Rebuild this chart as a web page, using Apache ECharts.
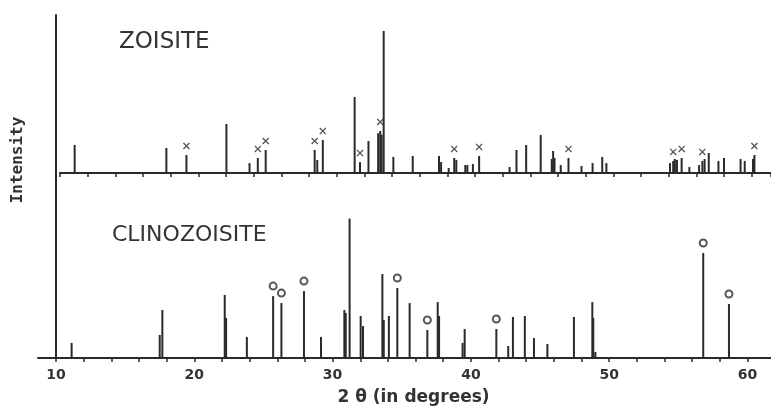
<!DOCTYPE html>
<html>
<head>
	<meta charset="utf-8">
	<title>Zoisite / Clinozoisite</title>
	<script src="https://cdn.jsdelivr.net/npm/echarts@6/dist/echarts.min.js"></script>
	<style type="text/css">
	html, body { margin: 0; padding: 0; background: #fff; }
	#chart { width: 771px; height: 414px; }
	</style>
</head>
<body>
	<div id="chart"></div>
	<script>
	// 2theta positions and relative intensities (tallest = 100)
	var zoisitePos = [11.06, 17.69, 19.14, 22.03, 23.7, 24.3, 24.87, 28.41, 28.6, 29.0, 31.3, 31.69, 32.3,
		33.0, 33.15, 33.25, 33.4, 34.1, 35.5, 37.4, 37.55, 38.1, 38.5, 38.65, 39.3, 39.45, 39.85, 40.3,
		42.5, 43.0, 43.7, 44.75, 45.55, 45.65, 45.75, 46.2, 46.76, 47.7, 48.5, 49.2, 49.5,
		54.1, 54.33, 54.45, 54.6, 54.94, 55.5, 56.2, 56.44, 56.6, 56.9, 57.6, 58.0, 59.2, 59.5, 60.1, 60.2];
	var zoisiteInt = [19.7, 17.6, 12.7, 34.5, 7.0, 10.6, 16.2, 16.2, 9.2, 23.2, 53.5, 7.7, 22.5,
		28, 29.6, 27, 100, 11.3, 12, 12, 7.7, 3.5, 10.6, 9.2, 5.6, 5.6, 6.3, 12,
		4.2, 16.2, 19.7, 26.8, 9.9, 15.5, 10.6, 5.6, 10.6, 4.9, 7.0, 11.3, 7.0,
		7.0, 8.5, 9.9, 9.2, 10.6, 4.2, 5.6, 8.5, 9.9, 14.1, 8.5, 10.6, 9.9, 8.5, 9.9, 12.7];
	var zoisiteCross = [19.14, 24.3, 24.87, 28.41, 29.0, 31.69, 33.15, 38.5, 40.3, 46.76, 54.33, 54.94, 56.44, 60.2];

	var clinoPos = [11.13, 17.5, 17.69, 22.2, 22.3, 23.8, 25.7, 26.3, 27.93, 29.16, 30.85, 30.95, 31.23,
		32.03, 32.2, 33.6, 33.7, 34.07, 34.68, 35.57, 36.85, 37.6, 37.7, 39.4, 39.55, 41.84, 42.7,
		43.04, 43.9, 44.56, 45.53, 47.45, 48.78, 48.85, 49.0, 56.8, 58.66];
	var clinoInt = [10.8, 16.5, 34.4, 45.2, 28.7, 15.1, 44.4, 39.4, 48.0, 15.1, 34.4, 32.3, 100,
		30.1, 22.9, 60.2, 27.2, 30.1, 50.2, 39.4, 20.1, 40.1, 30.1, 10.8, 20.8, 20.8, 8.6,
		29.4, 30.1, 14.3, 10.0, 29.4, 40.1, 28.7, 4.3, 75.3, 38.7];
	var clinoCircle = [25.7, 26.3, 27.93, 34.68, 36.85, 41.84, 56.8, 58.66];

	var tickLabels = [10, 20, 30, 40, 50, 60];

	var ink = '#2a2a2a';

	function pairs(pos, val) {
		return pos.map(function(p, i) { return [p, val[i]]; });
	}
	function marks(list, pos, val) {
		return list.map(function(p) { return [p, val[pos.indexOf(p)]]; });
	}

	var crossPath = 'path://M0,1.3L1.3,0L10,8.7L8.7,10Z M8.7,0L10,1.3L1.3,10L0,8.7Z';

	var chart = echarts.init(document.getElementById('chart'));
	chart.setOption({
		backgroundColor: '#fff',
		animation: false,
		title: [{
			text: 'ZOISITE',
			left: 119, top: 31, padding: 0,
			textStyle: { fontFamily: 'DejaVu Sans', fontWeight: 'normal', fontSize: 23, color: '#333' }
		}, {
			text: 'CLINOZOISITE',
			left: 112, top: 224, padding: 0,
			textStyle: { fontFamily: 'DejaVu Sans', fontWeight: 'normal', fontSize: 22, color: '#333' }
		}],
		graphic: [{
			type: 'text',
			x: 18, y: 160,
			rotation: Math.PI / 2,
			style: {
				text: 'Intensity',
				fill: '#333',
				font: 'bold 16px "DejaVu Sans Mono"',
				align: 'center',
				verticalAlign: 'middle'
			}
		}],
		grid: [
			{ left: 60, right: 0, top: 31, bottom: 241 },   // zoisite
			{ left: 56, right: 0, top: 15, bottom: 56 },    // clinozoisite (+ tall y line)
			{ left: 38, width: 18, top: 15, bottom: 56 }    // little stub of the bottom baseline
		],
		xAxis: [{
			gridIndex: 0, type: 'value', min: 10, max: 61.4, interval: 2,
			axisLine: { lineStyle: { color: ink, width: 2 } },
			axisTick: { length: 4, lineStyle: { color: ink, width: 1.5 } },
			axisLabel: { show: false },
			splitLine: { show: false }
		}, {
			gridIndex: 1, type: 'value', min: 10, max: 61.7, interval: 2,
			name: '2 θ (in degrees)',
			nameLocation: 'middle', nameGap: 31,
			nameTextStyle: { fontFamily: 'DejaVu Sans', fontWeight: 'bold', fontSize: 17, color: '#333' },
			axisLine: { lineStyle: { color: ink, width: 2 } },
			axisTick: { length: 4, lineStyle: { color: ink, width: 1.5 } },
			axisLabel: {
				margin: 10,
				fontFamily: 'DejaVu Sans', fontWeight: 'bold', fontSize: 14, color: '#333',
				showMaxLabel: false,
				formatter: function(v) {
					return tickLabels.indexOf(v) >= 0 ? String(v) : '';
				}
			},
			splitLine: { show: false }
		}, {
			gridIndex: 2, type: 'value', min: 0, max: 1,
			axisLine: { lineStyle: { color: ink, width: 2 } },
			axisTick: { show: false },
			axisLabel: { show: false },
			splitLine: { show: false }
		}],
		yAxis: [{
			gridIndex: 0, type: 'value', min: 0, max: 100, show: false
		}, {
			gridIndex: 1, type: 'value', min: 0, max: 246,
			axisLine: { show: true, lineStyle: { color: ink, width: 2 } },
			axisTick: { show: false },
			axisLabel: { show: false },
			splitLine: { show: false }
		}, {
			gridIndex: 2, type: 'value', min: 0, max: 1, show: false
		}],
		series: [{
			name: 'Zoisite',
			type: 'bar',
			xAxisIndex: 0, yAxisIndex: 0,
			barWidth: 2,
			itemStyle: { color: ink },
			data: pairs(zoisitePos, zoisiteInt)
		}, {
			name: 'Zoisite x',
			type: 'scatter',
			xAxisIndex: 0, yAxisIndex: 0,
			symbol: crossPath,
			symbolSize: 7,
			symbolOffset: [0, -9],
			itemStyle: { color: ink },
			data: marks(zoisiteCross, zoisitePos, zoisiteInt)
		}, {
			name: 'Clinozoisite',
			type: 'bar',
			xAxisIndex: 1, yAxisIndex: 1,
			barWidth: 2,
			itemStyle: { color: ink },
			data: pairs(clinoPos, clinoInt)
		}, {
			name: 'Clinozoisite o',
			type: 'scatter',
			xAxisIndex: 1, yAxisIndex: 1,
			symbol: 'emptyCircle',
			symbolSize: 7,
			symbolOffset: [0, -10],
			itemStyle: { color: ink, borderWidth: 1.5 },
			data: marks(clinoCircle, clinoPos, clinoInt)
		}]
	});
	</script>
</body>
</html>
